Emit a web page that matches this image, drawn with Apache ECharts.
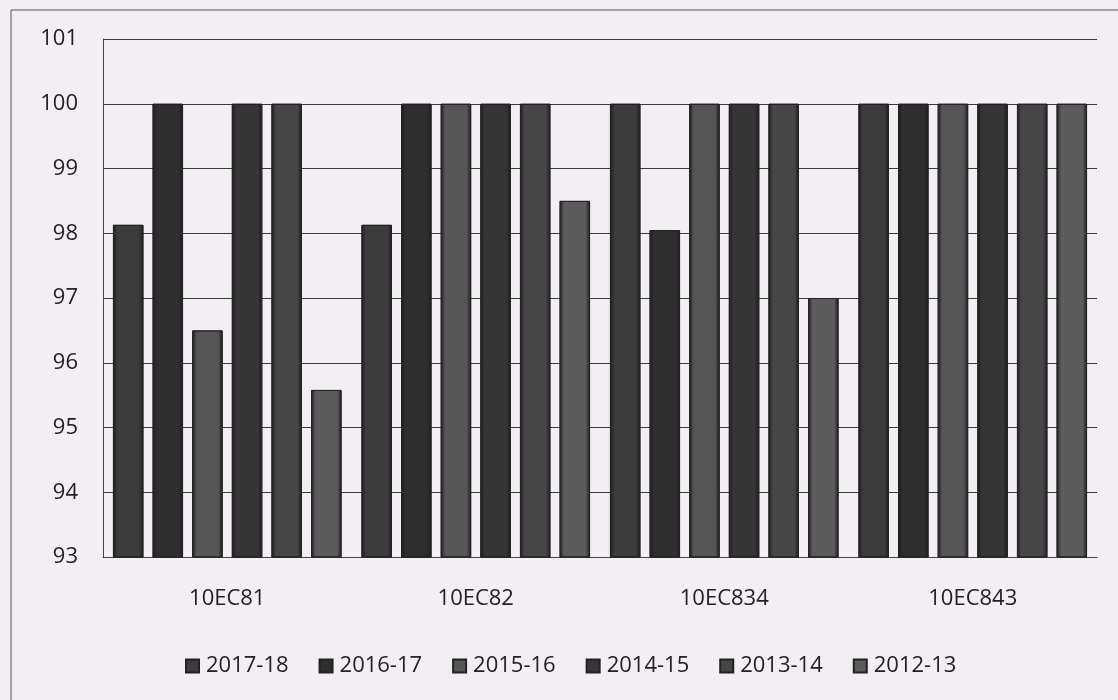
<!DOCTYPE html>
<html lang="en">
<head>
    <meta charset="UTF-8">
    <title>Results</title>
    <script src="https://cdn.jsdelivr.net/npm/echarts@6/dist/echarts.min.js"></script>
    <style>
        body, html {
            height: 100%;
            margin: 0;
            background: #f2eef4;
        }

        #chart {
            width: 1118px;
            height: 700px;
        }
    </style>
</head>
<body>
<div id="chart"></div>
<script>
    const subjects = ['10EC81', '10EC82', '10EC834', '10EC843'];
    const years = ['2017-18', '2016-17', '2015-16', '2014-15', '2013-14', '2012-13'];
    const y2017 = [98.13, 98.13, 100, 100];
    const y2016 = [100, 100, 98.05, 100];
    const y2015 = [96.5, 100, 100, 100];
    const y2014 = [100, 100, 100, 100];
    const y2013 = [100, 100, 100, 100];
    const y2012 = [95.58, 98.5, 97, 100];
    const yTicks = [93, 94, 95, 96, 97, 98, 99, 100, 101];

    const values = [y2017, y2016, y2015, y2014, y2013, y2012];
    // scanned greys, one per year
    const colors = ['#3c3c3c', '#2e2e2e', '#565656', '#353535', '#464646', '#5c5c5c'];

    function barColor(c) {
        return {
            type: 'linear', x: 0, y: 0, x2: 1, y2: 0,
            colorStops: [
                {offset: 0, color: '#1e1e1e'},
                {offset: 0.15, color: c},
                {offset: 0.85, color: c},
                {offset: 1, color: '#1e1e1e'}
            ]
        };
    }

    const chart = echarts.init(document.getElementById('chart'));

    const series = years.map((name, i) => ({
        name: name,
        type: 'bar',
        data: values[i],
        barGap: '30%',
        barCategoryGap: '8%',
        itemStyle: {color: barColor(colors[i]), borderColor: '#222', borderWidth: 1}
    }));

    chart.setOption({
        backgroundColor: '#f2eef4',
        textStyle: {fontFamily: 'Open Sans'},
        graphic: [{
            type: 'rect',
            shape: {x: 11, y: 10, width: 1120, height: 700},
            style: {fill: 'none', stroke: '#555', lineWidth: 1},
            silent: true
        }],
        grid: {left: 103, right: 21, top: 39, bottom: 143},
        legend: {
            left: 180,
            top: 650,
            itemWidth: 13,
            itemHeight: 13,
            itemGap: 30,
            icon: 'rect',
            textStyle: {fontSize: 22, color: '#222', fontFamily: 'Open Sans', padding: [0, 0, 0, 2]},
            data: years
        },
        xAxis: {
            type: 'category',
            data: subjects,
            axisTick: {show: false},
            axisLine: {lineStyle: {color: '#444'}},
            axisLabel: {fontSize: 22, color: '#222', margin: 31}
        },
        yAxis: {
            type: 'value',
            min: yTicks[0],
            max: yTicks[yTicks.length - 1],
            interval: 1,
            axisLine: {show: true, lineStyle: {color: '#444'}},
            axisTick: {show: false},
            axisLabel: {fontSize: 22, color: '#222', margin: 25},
            splitLine: {lineStyle: {color: '#3a3a3a', width: 1}}
        },
        series: series
    });
</script>
</body>
</html>
